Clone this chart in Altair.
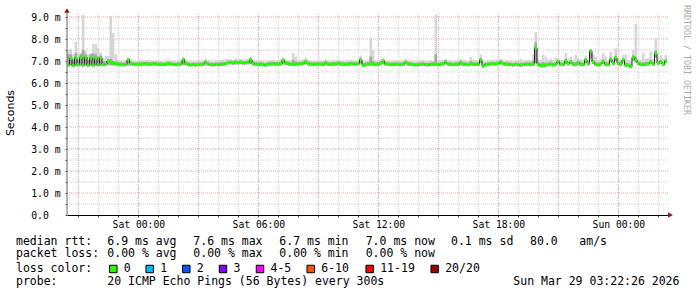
import altair as alt
import pandas as pd

# ---------------- data ----------------
# one value every 7.5 minutes, starting Fri 2026-03-27 20:26 UTC
median_ms = [
    6.82, 7.12, 6.80, 7.15, 6.83, 7.16, 6.82, 7.18, 6.81, 7.14, 6.82, 7.13, 6.83, 7.14, 6.84, 6.86, 7.00, 6.98, 6.90, 6.88,
    6.85, 6.84, 6.83, 6.84, 7.06, 6.90, 6.86, 6.85, 6.86, 6.86, 6.87, 6.88, 6.86, 6.86, 6.88, 6.87, 6.86, 6.85, 6.84, 6.86,
    6.88, 6.87, 6.85, 6.84, 6.86, 6.87, 7.06, 6.90, 6.85, 6.83, 6.84, 6.83, 6.85, 6.84, 6.86, 6.94, 6.86, 6.84, 6.83, 6.85,
    6.84, 6.85, 6.86, 6.88, 6.93, 6.94, 6.92, 6.94, 6.93, 6.95, 6.92, 6.93, 6.94, 7.06, 6.90, 6.86, 6.85, 6.86, 6.84, 6.82,
    6.86, 6.87, 6.88, 6.86, 6.87, 6.88, 7.03, 6.93, 6.88, 6.86, 6.85, 6.86, 6.87, 6.88, 6.90, 6.96, 6.89, 6.86, 6.85, 6.86,
    6.87, 6.86, 6.85, 6.92, 6.86, 6.85, 6.87, 6.86, 6.90, 6.87, 6.86, 6.85, 6.86, 6.88, 6.87, 6.86, 6.88, 7.06, 6.80, 6.85,
    6.86, 6.87, 6.86, 6.85, 6.86, 6.90, 7.00, 6.87, 6.86, 6.84, 6.85, 6.86, 6.85, 6.84, 6.86, 6.93, 6.87, 6.85, 6.84, 6.83,
    6.84, 6.85, 6.86, 6.84, 6.83, 6.85, 6.86, 6.85, 6.84, 6.86, 6.88, 6.95, 6.87, 6.85, 6.84, 6.86, 6.85, 6.92, 6.86, 6.85,
    6.84, 6.86, 6.87, 6.85, 6.86, 7.06, 6.78, 6.84, 6.86, 6.87, 6.88, 6.87, 6.89, 6.95, 6.88, 6.86, 6.85, 6.84, 6.83, 6.85,
    6.84, 6.82, 6.84, 6.85, 6.86, 6.85, 6.86, 7.60, 6.85, 6.80, 6.79, 6.80, 6.84, 6.86, 6.83, 6.85, 6.98, 6.85, 6.84, 7.00,
    6.88, 6.95, 6.85, 6.84, 6.92, 6.86, 6.84, 7.05, 6.88, 7.45, 6.95, 6.85, 6.83, 6.86, 6.97, 6.85, 6.84, 7.08, 6.90, 7.15,
    6.90, 6.85, 7.05, 6.82, 6.80, 6.74, 7.17, 7.05, 6.90, 6.85, 6.84, 6.86, 6.88, 6.95, 6.86, 7.35, 6.90, 6.97, 6.85, 7.00,
]
max_ms = [
    7.50, 7.55, 7.30, 7.88, 7.35, 7.40, 9.10, 7.45, 7.30, 7.35, 7.77, 7.77, 7.60, 7.40, 7.15, 7.23, 7.23, 9.05, 8.27, 7.30,
    7.05, 7.02, 7.00, 7.04, 7.15, 7.08, 7.02, 7.00, 7.03, 7.05, 7.02, 7.04, 7.06, 7.02, 7.00, 7.04, 7.03, 7.01, 7.00, 7.02,
    7.05, 7.03, 7.02, 7.00, 7.02, 7.04, 7.18, 7.08, 7.02, 7.00, 7.01, 6.99, 7.02, 7.01, 7.03, 7.10, 7.04, 7.00, 6.99, 7.02,
    7.02, 7.04, 7.06, 7.08, 7.10, 7.08, 7.06, 7.12, 7.08, 7.10, 7.06, 7.08, 7.10, 7.20, 7.06, 7.03, 7.02, 7.04, 7.00, 6.98,
    7.02, 7.04, 7.06, 7.03, 7.04, 7.10, 7.15, 7.08, 7.04, 7.02, 7.36, 7.20, 7.04, 7.05, 7.08, 7.15, 7.05, 7.02, 7.01, 7.03,
    7.04, 7.02, 7.01, 7.08, 7.03, 7.02, 7.04, 7.03, 7.06, 7.04, 7.02, 7.01, 7.03, 7.05, 7.04, 7.03, 7.06, 7.25, 7.00, 7.02,
    7.04, 8.07, 7.50, 7.02, 7.03, 7.08, 7.12, 7.04, 7.02, 7.00, 7.01, 7.03, 7.02, 7.00, 7.03, 7.10, 7.04, 7.02, 7.00, 6.99,
    7.01, 7.02, 7.03, 7.01, 7.00, 7.02, 7.03, 9.10, 7.02, 7.03, 7.05, 7.10, 7.04, 7.02, 7.01, 7.03, 7.04, 7.10, 7.03, 7.02,
    7.01, 7.18, 7.05, 7.02, 7.04, 7.29, 7.00, 7.02, 7.04, 7.05, 7.06, 7.04, 7.06, 7.10, 7.06, 7.03, 7.02, 7.01, 7.00, 7.02,
    7.02, 7.10, 7.02, 7.03, 7.04, 7.05, 7.30, 8.32, 7.10, 7.05, 7.29, 7.20, 7.05, 7.10, 7.04, 7.15, 7.15, 7.06, 7.05, 7.36,
    7.10, 7.20, 7.05, 7.29, 7.15, 7.08, 7.05, 7.25, 7.10, 7.56, 7.30, 7.20, 7.05, 7.10, 7.35, 7.20, 7.05, 7.42, 7.10, 7.58,
    7.10, 7.05, 7.27, 7.30, 7.05, 7.00, 7.50, 8.68, 7.10, 7.05, 7.35, 7.10, 7.15, 7.42, 7.10, 8.03, 7.15, 7.27, 7.10, 7.27,
]
upper_ms = [
    7.30, 7.30, 7.05, 7.35, 7.05, 7.30, 7.50, 7.30, 7.05, 7.30, 7.35, 7.30, 7.20, 7.25, 6.98, 7.00, 7.08, 7.10, 7.00, 6.98,
    6.95, 6.94, 6.93, 6.94, 7.10, 6.98, 6.94, 6.93, 6.94, 6.95, 6.95, 6.96, 6.94, 6.94, 6.96, 6.95, 6.94, 6.93, 6.92, 6.94,
    6.96, 6.95, 6.93, 6.92, 6.94, 6.95, 7.12, 6.98, 6.93, 6.91, 6.92, 6.91, 6.93, 6.92, 6.94, 7.02, 6.94, 6.92, 6.91, 6.93,
    6.92, 6.93, 6.94, 6.96, 7.00, 7.01, 6.99, 7.02, 7.00, 7.02, 6.99, 7.00, 7.02, 7.12, 6.98, 6.94, 6.93, 6.94, 6.92, 6.90,
    6.94, 6.95, 6.96, 6.94, 6.95, 6.97, 7.10, 7.00, 6.96, 6.94, 7.05, 6.98, 6.95, 6.96, 6.98, 7.04, 6.97, 6.94, 6.93, 6.94,
    6.95, 6.94, 6.93, 7.00, 6.94, 6.93, 6.95, 6.94, 6.98, 6.95, 6.94, 6.93, 6.94, 6.96, 6.95, 6.94, 6.96, 7.14, 6.90, 6.93,
    6.94, 7.20, 7.00, 6.93, 6.94, 6.98, 7.06, 6.95, 6.94, 6.92, 6.93, 6.94, 6.93, 6.92, 6.94, 7.01, 6.95, 6.93, 6.92, 6.91,
    6.92, 6.93, 6.94, 6.92, 6.91, 6.93, 6.94, 7.30, 6.92, 6.94, 6.96, 7.03, 6.95, 6.93, 6.92, 6.94, 6.93, 7.00, 6.94, 6.93,
    6.92, 7.00, 6.95, 6.93, 6.94, 7.14, 6.88, 6.92, 6.94, 6.95, 6.96, 6.95, 6.97, 7.03, 6.96, 6.94, 6.93, 6.92, 6.91, 6.93,
    6.92, 6.92, 6.92, 6.93, 6.94, 6.93, 7.00, 7.85, 6.95, 6.90, 6.95, 6.92, 6.93, 6.96, 6.92, 6.96, 7.05, 6.94, 6.93, 7.10,
    6.97, 7.04, 6.94, 6.96, 7.01, 6.95, 6.93, 7.12, 6.97, 7.52, 7.05, 6.95, 6.92, 6.95, 7.06, 6.94, 6.93, 7.16, 6.98, 7.24,
    6.98, 6.94, 7.12, 6.92, 6.90, 6.85, 7.25, 7.20, 6.98, 6.93, 6.94, 6.95, 6.96, 7.05, 6.95, 7.48, 6.98, 7.05, 6.93, 7.08,
]
min_ms = [
    6.76, 6.78, 6.75, 6.77, 6.76, 6.78, 6.75, 6.78, 6.75, 6.77, 6.76, 6.77, 6.77, 6.78, 6.78, 6.79, 6.82, 6.80, 6.80, 6.79,
    6.78, 6.77, 6.76, 6.77, 6.80, 6.79, 6.78, 6.77, 6.78, 6.78, 6.79, 6.80, 6.78, 6.78, 6.80, 6.79, 6.78, 6.77, 6.76, 6.78,
    6.80, 6.79, 6.77, 6.76, 6.78, 6.79, 6.82, 6.80, 6.77, 6.75, 6.76, 6.75, 6.77, 6.76, 6.78, 6.83, 6.78, 6.76, 6.75, 6.77,
    6.76, 6.77, 6.78, 6.80, 6.84, 6.85, 6.83, 6.85, 6.84, 6.86, 6.83, 6.84, 6.85, 6.86, 6.80, 6.78, 6.77, 6.78, 6.76, 6.74,
    6.78, 6.79, 6.80, 6.78, 6.79, 6.80, 6.84, 6.82, 6.80, 6.78, 6.77, 6.78, 6.79, 6.80, 6.81, 6.86, 6.80, 6.78, 6.77, 6.78,
    6.79, 6.78, 6.77, 6.82, 6.78, 6.77, 6.79, 6.78, 6.81, 6.79, 6.78, 6.77, 6.78, 6.80, 6.79, 6.78, 6.80, 6.88, 6.72, 6.77,
    6.78, 6.80, 6.79, 6.77, 6.78, 6.81, 6.86, 6.79, 6.78, 6.76, 6.77, 6.78, 6.77, 6.76, 6.78, 6.84, 6.79, 6.77, 6.76, 6.75,
    6.76, 6.77, 6.78, 6.76, 6.75, 6.77, 6.78, 6.79, 6.76, 6.78, 6.80, 6.86, 6.79, 6.77, 6.76, 6.78, 6.77, 6.83, 6.78, 6.77,
    6.76, 6.80, 6.79, 6.77, 6.78, 6.90, 6.70, 6.76, 6.78, 6.79, 6.80, 6.79, 6.81, 6.86, 6.80, 6.78, 6.77, 6.76, 6.75, 6.77,
    6.76, 6.74, 6.76, 6.77, 6.78, 6.77, 6.79, 6.90, 6.76, 6.72, 6.71, 6.72, 6.76, 6.78, 6.75, 6.77, 6.88, 6.77, 6.76, 6.88,
    6.80, 6.86, 6.77, 6.76, 6.83, 6.78, 6.76, 6.92, 6.80, 7.10, 6.86, 6.77, 6.75, 6.78, 6.88, 6.77, 6.76, 6.96, 6.82, 7.00,
    6.82, 6.77, 6.94, 6.74, 6.72, 6.68, 7.02, 6.94, 6.82, 6.77, 6.76, 6.78, 6.80, 6.86, 6.78, 7.15, 6.82, 6.88, 6.77, 6.90,
]

y_major = [1, 2, 3, 4, 5, 6, 7, 8, 9]
y_minor = [0.5, 1.5, 2.5, 3.5, 4.5, 5.5, 6.5, 7.5, 8.5]
y_ticks = [0, 0.5, 1, 1.5, 2, 2.5, 3, 3.5, 4, 4.5, 5, 5.5, 6, 6.5, 7, 7.5, 8, 8.5, 9]

legend_rows = [
    ["median rtt:", "6.9 ms avg", "7.6 ms max", "6.7 ms min", "7.0 ms now", "0.1 ms sd", "80.0", "am/s"],
    ["packet loss:", "0.00 % avg", "0.00 % max", "0.00 % min", "0.00 % now"],
    ["loss color:"],
    ["probe:", "20 ICMP Echo Pings (56 Bytes) every 300s", "Sun Mar 29 03:22:26 2026"],
]
loss_labels = ["0", "1", "2", "3", "4-5", "6-10", "11-19", "20/20"]
loss_colors = ["#26ff00", "#00b8ff", "#0059ff", "#7e00ff", "#ff00ff", "#ff5500", "#ff0000", "#a10000"]

# ---------------- layout ----------------
W, H = 602, 209
PAD_L, PAD_T = 67, 6
FONT_MONO = "DejaVu Sans Mono"
GRID_TOP = 9.2
AXIS_TOP = 9.3

step = pd.Timedelta(seconds=450)
t = pd.date_range("2026-03-27 20:26:00", periods=len(median_ms), freq="450s")
fmt = "%Y-%m-%dT%H:%M:%SZ"
df = pd.DataFrame({
    "t": t.strftime(fmt),
    "t2": (t + step).strftime(fmt),
    "med": median_ms, "hi": max_ms, "up": upper_ms, "lo": min_ms,
})

hours = pd.date_range("2026-03-27 21:00:00", "2026-03-29 02:00:00", freq="1h")
df_hmaj = pd.DataFrame({"h": [h.strftime(fmt) for h in hours if h.hour % 3 == 0]})
df_hmin = pd.DataFrame({"h": [h.strftime(fmt) for h in hours if h.hour % 3 != 0]})
for d in (df_hmaj, df_hmin):
    d["y0"] = 0.0
    d["y1"] = GRID_TOP
df_ymaj = pd.DataFrame({"v": y_major})
df_ymin = pd.DataFrame({"v": y_minor})
df_axis = pd.DataFrame({"y0": [0.0], "y1": [AXIS_TOP]})

hour_ms = [int(h.tz_localize("UTC").timestamp() * 1000) for h in hours]
t0_ms = int(pd.Timestamp("2026-03-27 20:26:00", tz="UTC").timestamp() * 1000)
t1_ms = int(pd.Timestamp("2026-03-29 02:32:00", tz="UTC").timestamp() * 1000)

xscale = alt.Scale(type="utc", domain=[t0_ms, t1_ms])
yscale = alt.Scale(domain=[0, 9.5], nice=False, zero=False)

xaxis = alt.Axis(
    values=hour_ms,
    labelExpr="utchours(datum.value) % 6 == 0 ? utcFormat(datum.value, '%a %H:%M') : ''",
    labelFont=FONT_MONO, labelFontSize=9.7, labelColor="#000000",
    labelOverlap=False, labelFlush=False, labelBaseline="middle", labelPadding=7,
    tickSize=2, tickColor="#444444", domainColor="#000000", domainWidth=1,
    grid=False, title=None,
)
yaxis = alt.Axis(
    values=y_ticks,
    labelExpr="datum.value == 0 ? '0.0' : (datum.value % 1 == 0 ? format(datum.value, '.1f') + ' m' : '')",
    labelFont=FONT_MONO, labelFontSize=9.8, labelColor="#000000", labelAlign="left",
    labelPadding=34.3, labelOverlap=False, labelFlush=False,
    tickSize=2, tickColor="#555555", domain=False, grid=False, title=None,
)


def X(field):
    return alt.X(field, scale=xscale, axis=xaxis)


def Y(field):
    return alt.Y(field, scale=yscale, axis=yaxis)


GREY = "#cfcfcf"
RED = "#e8a4a4"
DASH = [1, 1]

grid_x_min = alt.Chart(df_hmin).mark_rule(color=GREY, strokeDash=DASH, strokeWidth=1).encode(
    x=X("h:T"), y=Y("y0:Q"), y2="y1:Q")
grid_x_maj = alt.Chart(df_hmaj).mark_rule(color=RED, strokeDash=DASH, strokeWidth=1).encode(
    x=X("h:T"), y=Y("y0:Q"), y2="y1:Q")
grid_y_min = alt.Chart(df_ymin).mark_rule(color=GREY, strokeDash=DASH, strokeWidth=1).encode(
    y=Y("v:Q"), x=alt.value(0), x2=alt.value(W))
grid_y_maj = alt.Chart(df_ymaj).mark_rule(color=RED, strokeDash=DASH, strokeWidth=1).encode(
    y=Y("v:Q"), x=alt.value(0), x2=alt.value(W))

base = alt.Chart(df)
smoke_outer = base.mark_rect(color="#d6d6d6").encode(
    x=X("t:T"), x2="t2:T", y=Y("lo:Q"), y2="hi:Q")
smoke_inner = base.mark_rect(color="#a4a4a4").encode(
    x=X("t:T"), x2="t2:T", y=Y("lo:Q"), y2="up:Q")
med_black = base.mark_line(interpolate="step-after", color="#202020", strokeWidth=1).encode(
    x=X("t:T"), y=Y("med:Q"))
med_green = base.mark_rule(color="#26ff00", strokeWidth=3).encode(
    x=X("t:T"), x2="t2:T", y=Y("med:Q"))

y_axis_line = alt.Chart(df_axis).mark_rule(color="#666666", strokeWidth=1).encode(
    x=alt.value(0), y=Y("y0:Q"), y2="y1:Q")

one = pd.DataFrame({"k": [0]})
arrow_up = alt.Chart(one).mark_point(shape="triangle-up", filled=True, size=30,
                                     color="#8b1a1a", opacity=1).encode(
    x=alt.value(0), y=alt.value(4.5))
arrow_right = alt.Chart(one).mark_point(shape="triangle-right", filled=True, size=30,
                                        color="#8b1a1a", opacity=1).encode(
    x=alt.value(603.5), y=alt.value(H))


def text_at(s, px, py, size=11.5, font=FONT_MONO, color="#000000", angle=0, align="left"):
    return alt.Chart(one).mark_text(
        text=s, font=font, fontSize=size, color=color, align=align,
        baseline="middle", angle=angle,
    ).encode(x=alt.value(px - PAD_L), y=alt.value(py - PAD_T))


texts = []
col_x = [16, 107.3, 193.3, 279.3, 365.7, 451, 530, 579.3]
row_y = [241.7, 254.3, 269, 282.3]
for ri, row in enumerate(legend_rows[:2]):
    for ci, s in enumerate(row):
        texts.append(text_at(s, col_x[ci], row_y[ri]))
texts.append(text_at(legend_rows[2][0], 16, row_y[2]))
probe_x = [16, 107.3, 513.3]
for ci, s in enumerate(legend_rows[3]):
    texts.append(text_at(s, probe_x[ci], row_y[3]))

box_x = [109.3, 145.7, 182.3, 219, 256, 306.7, 365.7, 430.7]
for bx, lab, colr in zip(box_x, loss_labels, loss_colors):
    texts.append(alt.Chart(one).mark_square(size=56, filled=True, stroke="#000000",
                                            strokeWidth=1, opacity=1).encode(
        x=alt.value(bx + 4 - PAD_L), y=alt.value(row_y[2] - PAD_T), fill=alt.value(colr)))
    texts.append(text_at(lab, bx + 14.5, row_y[2]))

texts.append(text_at("Seconds", 11, 113, size=11, font="DejaVu Sans", angle=270, align="center"))
texts.append(text_at("RRDTOOL / TOBI OETIKER", 686, 5, size=8.3, color="#aaaaaa", angle=90))

chart = alt.layer(
    grid_x_min, grid_x_maj, grid_y_min, grid_y_maj,
    smoke_outer, smoke_inner, med_black, med_green,
    y_axis_line, arrow_up, arrow_right, *texts,
).properties(
    width=W, height=H,
    padding={"left": PAD_L, "top": PAD_T, "right": 697 - PAD_L - W, "bottom": 297 - PAD_T - H},
    autosize="none", background="white",
).configure_view(stroke=None)

chart.save("out.html", embed_options={"renderer": "svg", "actions": False})
